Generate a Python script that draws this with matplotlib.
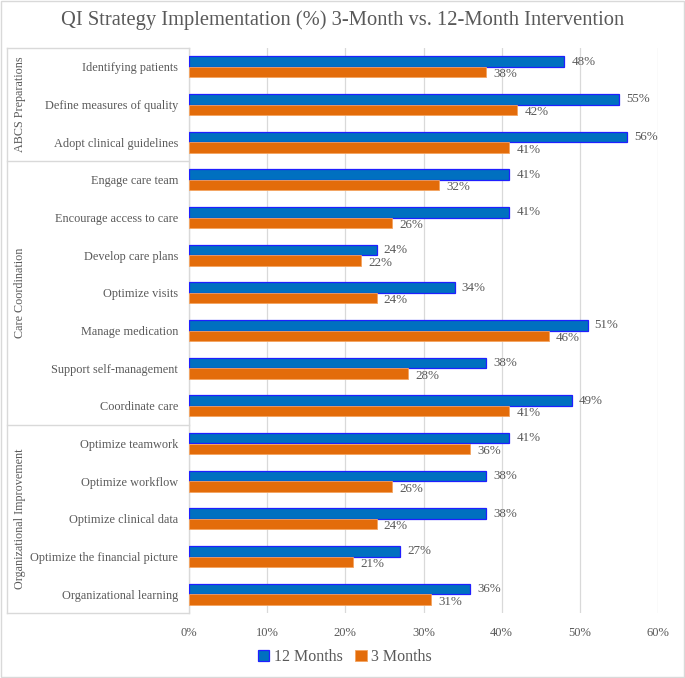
import matplotlib
matplotlib.use("Agg")
import matplotlib.pyplot as plt
import matplotlib.transforms as mtransforms
from matplotlib.patches import Rectangle
import numpy as np

plt.rcParams['font.family'] = ['Liberation Serif', 'DejaVu Serif']

categories = ["Identifying patients", "Define measures of quality", "Adopt clinical guidelines",
              "Engage care team", "Encourage access to care", "Develop care plans",
              "Optimize visits", "Manage medication", "Support self-management",
              "Coordinate care", "Optimize teamwork", "Optimize workflow",
              "Optimize clinical data", "Optimize the financial picture", "Organizational learning"]
months12 = [48, 55, 56, 41, 41, 24, 34, 51, 38, 49, 41, 38, 38, 27, 36]
months3 = [38, 42, 41, 32, 26, 22, 24, 46, 28, 41, 36, 26, 24, 21, 31]
groups = ["ABCS Preparations", "Care Coordination", "Organizational Improvement"]
group_sizes = [3, 7, 5]
xticks = [0, 10, 20, 30, 40, 50, 60]

text_col = "#595959"
blue = "#0070C0"
blue_edge = "#1F1FFF"
orange = "#E36C0A"
orange_edge = "#F4A460"

W, H = 685, 678
fig = plt.figure(figsize=(W/100, H/100), dpi=100)
ax = fig.add_axes([189/W, 1-613/H, (658-189)/W, (613-48)/H])

y = np.arange(len(categories))
h = 0.28
ax.barh(y - 0.14, months12, height=h, color=blue, edgecolor=blue_edge, linewidth=0.9, label="12 Months", zorder=3)
ax.barh(y + 0.14, months3, height=h, color=orange, edgecolor=orange_edge, linewidth=0.6, label="3 Months", zorder=3)

for i in range(len(categories)):
    ax.text(months12[i] + 0.9, y[i] - 0.14, f"{months12[i]}%", va="center", ha="left",
            fontsize=9.4, color=text_col)
    ax.text(months3[i] + 0.9, y[i] + 0.2, f"{months3[i]}%", va="center", ha="left",
            fontsize=9.4, color=text_col)

ax.set_ylim(len(categories) - 0.5, -0.5)
ax.set_xlim(0, 60)
ax.set_xticks(xticks)
ax.set_xticklabels([f"{t}%" for t in xticks], fontsize=9, color=text_col)
ax.tick_params(axis="x", length=0, pad=10)
ax.set_yticks(y)
ax.set_yticklabels(categories, fontsize=8.8, color=text_col)
ax.tick_params(axis="y", length=0, pad=8)
ax.grid(axis="x", color="#D9D9D9", linewidth=0.9, zorder=0)
for s in ax.spines.values():
    s.set_visible(False)

# left grouping panel
trans = mtransforms.blended_transform_factory(ax.transAxes, ax.transData)
xl = (7 - 189) / (658 - 189)
line_kw = dict(color="#D9D9D9", linewidth=1.0, transform=trans, clip_on=False)
bounds = [-0.5]
acc = -0.5
for gs in group_sizes:
    acc += gs
    bounds.append(acc)
for b in bounds:
    ax.plot([xl, 0], [b, b], **line_kw)
ax.plot([xl, xl], [bounds[0], bounds[-1]], **line_kw)
ax.plot([0, 0], [bounds[0], bounds[-1]], **line_kw)
xg = (20 - 189) / (658 - 189)
for gi, g in enumerate(groups):
    mid = (bounds[gi] + bounds[gi + 1]) / 2
    ax.text(xg, mid, g, rotation=90, ha="center", va="center", fontsize=8.7,
            color=text_col, transform=trans)

fig.text(0.5, 1 - 20/H, "QI Strategy Implementation (%) 3-Month vs. 12-Month Intervention",
         ha="center", va="center", fontsize=14.8, color=text_col)

leg = fig.legend(loc="center", bbox_to_anchor=(345/W, 1 - 657/H), ncol=2, frameon=False,
                 fontsize=11.5, handlelength=0.7, handleheight=0.7, handletextpad=0.3,
                 columnspacing=0.8, labelcolor=text_col)

fig.patches.append(Rectangle((0.002, 0.002), 0.996, 0.996, transform=fig.transFigure,
                             fill=False, edgecolor="#D9D9D9", linewidth=1.0))

fig.savefig("out.png", dpi=100)
